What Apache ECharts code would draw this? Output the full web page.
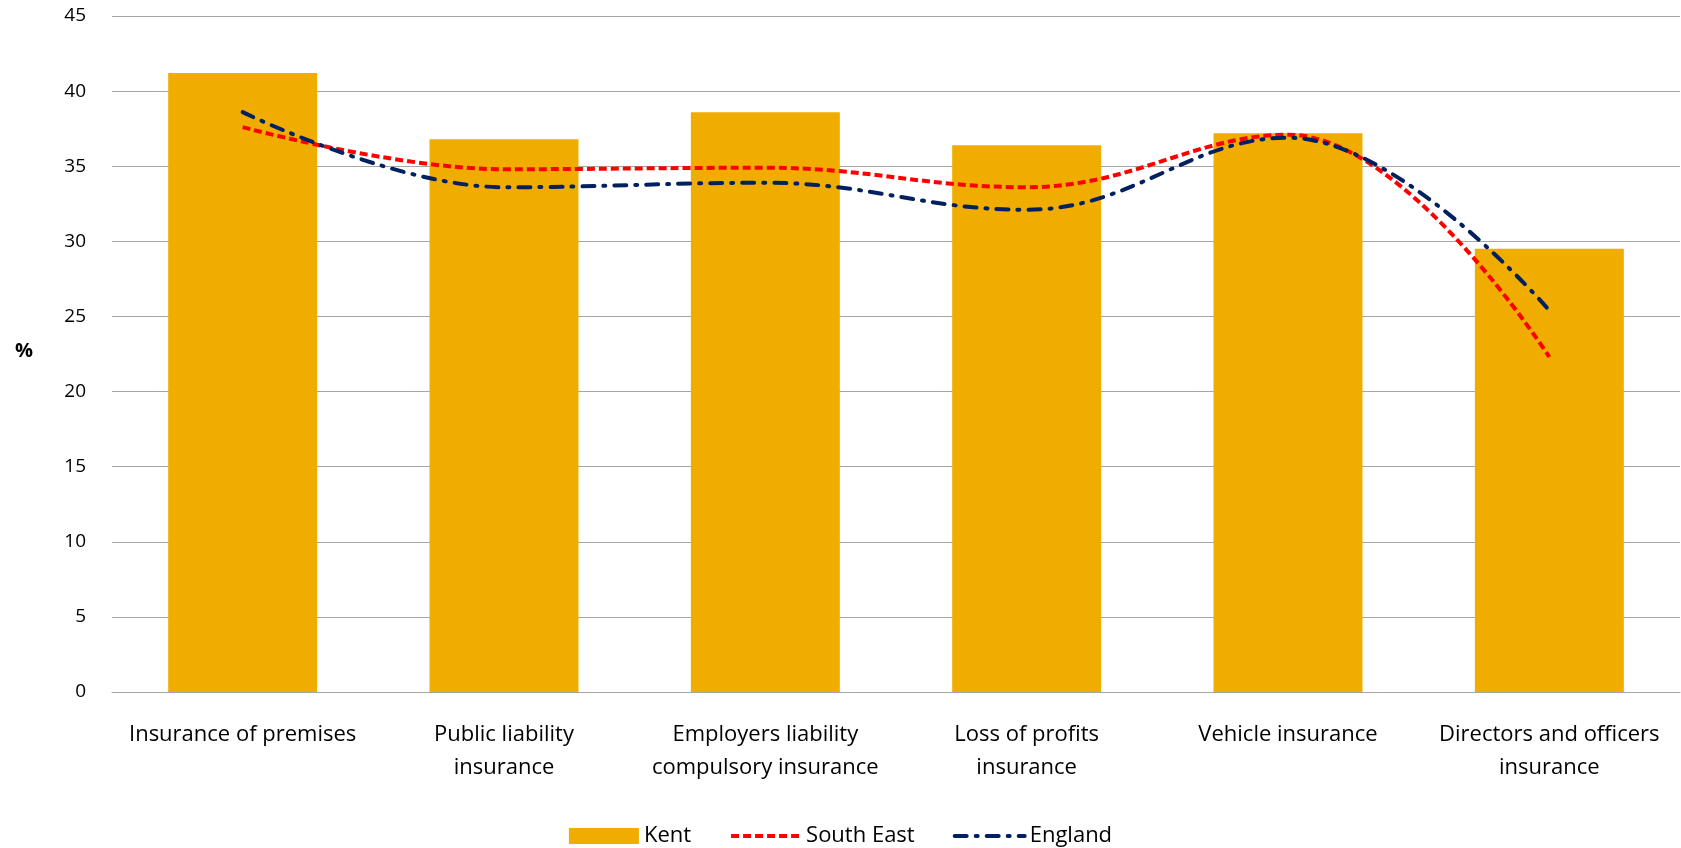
<!DOCTYPE html>
<html>
<head>
<meta charset="utf-8">
<script src="https://cdn.jsdelivr.net/npm/echarts@6/dist/echarts.min.js"></script>
<style>
html,body{margin:0;padding:0;background:#fff;}
#chart{width:1681px;height:848px;}
</style>
</head>
<body>
<div id="chart"></div>
<script>
const categories = [
  'Insurance of premises',
  'Public liability\ninsurance',
  'Employers liability\ncompulsory insurance',
  'Loss of profits\ninsurance',
  'Vehicle insurance',
  'Directors and officers\ninsurance'
];
const kent = [41.2, 36.8, 38.6, 36.4, 37.2, 29.5];
const southEast = [37.6, 34.8, 34.9, 33.6, 37.1, 22.3];
const england = [38.6, 33.6, 33.9, 32.1, 36.9, 25.4];
const yTicks = { min: 0, max: 45, interval: 5 };

const FONT = 'Open Sans';
const chart = echarts.init(document.getElementById('chart'));
chart.setOption({
  animation: false,
  textStyle: { fontFamily: FONT },
  grid: { left: 112, right: 1, top: 16, bottom: 156 },
  legend: {
    top: 820,
    left: 'center',
    itemWidth: 70,
    itemHeight: 16,
    itemGap: 38,
    textStyle: { fontFamily: FONT, fontSize: 22, color: '#000' },
    data: [
      { name: 'Kent', icon: 'rect' },
      { name: 'South East', itemStyle: { opacity: 0 }, lineStyle: { width: 4 } },
      { name: 'England', itemStyle: { opacity: 0 }, lineStyle: { width: 4 } }
    ]
  },
  graphic: [{
    type: 'text',
    left: 15,
    top: 341,
    style: { text: '%', font: 'bold 20px "Open Sans"', fill: '#000' }
  }],
  xAxis: {
    type: 'category',
    data: categories,
    axisTick: { show: false },
    axisLine: { show: true, lineStyle: { color: '#A6A6A6', width: 1 } },
    axisLabel: { color: '#000', fontSize: 22, margin: 26, lineHeight: 33, interval: 0 }
  },
  yAxis: {
    type: 'value',
    min: yTicks.min, max: yTicks.max, interval: yTicks.interval,
    axisLine: { show: false },
    axisTick: { show: false },
    splitLine: { lineStyle: { color: '#A6A6A6', width: 1 } },
    axisLabel: { color: '#000', fontSize: 19, margin: 26 }
  },
  series: [
    {
      name: 'Kent', type: 'bar', data: kent,
      barWidth: '57%',
      itemStyle: { color: '#F0AD00' }
    },
    {
      name: 'South East', type: 'line', data: southEast,
      smooth: 0.4, symbol: 'none',
      itemStyle: { color: '#FF0000' },
      lineStyle: { color: '#FF0000', width: 4, type: [8, 4] }
    },
    {
      name: 'England', type: 'line', data: england,
      smooth: 0.4, symbol: 'none',
      itemStyle: { color: '#002060' },
      lineStyle: { color: '#002060', width: 4, type: [12, 9, 2, 9], cap: 'round' }
    }
  ]
});
</script>
</body>
</html>
